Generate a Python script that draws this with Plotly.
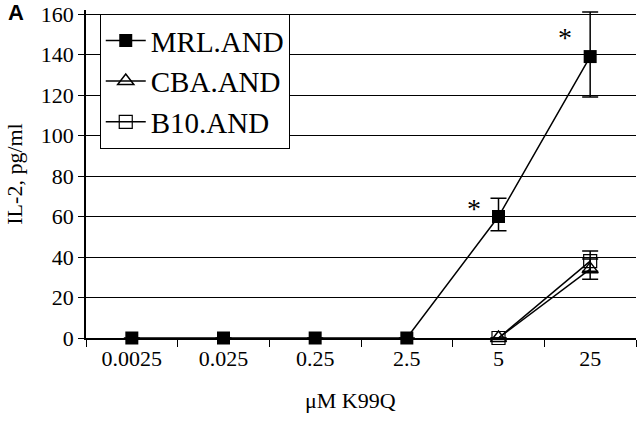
import plotly.graph_objects as go

# concentrations (µM K99Q)
doses = ["0.0025", "0.025", "0.25", "2.5", "5", "25"]

mrl = [0, 0, 0, 0, 60, 139]
mrl_err_up = [0, 0, 0, 0, 9, 22]
mrl_err_dn = [0, 0, 0, 0, 7, 20]

cba = [None, None, None, None, 0, 34]
cba_err = [0, 0, 0, 0, 0, 5]

b10 = [None, None, None, None, 0, 38]
b10_err = [0, 0, 0, 0, 0, 5]

# significant points (category index, value)
stars = [(4, 60), (5, 139)]

y_top = 162  # a little headroom so the top error cap is not clipped

serif = "Liberation Serif, Times New Roman, serif"

fig = go.Figure()

fig.add_trace(go.Scatter(
    x=doses, y=mrl, name="MRL.AND", mode="lines+markers", cliponaxis=False,
    line=dict(color="black", width=1.5),
    marker=dict(symbol="square", size=13, color="black"),
    error_y=dict(type="data", symmetric=False, array=mrl_err_up, arrayminus=mrl_err_dn,
                 color="black", thickness=1.5, width=8),
))

fig.add_trace(go.Scatter(
    x=doses, y=cba, name="CBA.AND", mode="lines+markers", cliponaxis=False,
    line=dict(color="black", width=1.5),
    marker=dict(symbol="triangle-up-open", size=14, color="black", line=dict(width=1.5)),
    error_y=dict(type="data", array=cba_err, color="black", thickness=1.5, width=8),
))

fig.add_trace(go.Scatter(
    x=doses, y=b10, name="B10.AND", mode="lines+markers", cliponaxis=False,
    line=dict(color="black", width=1.5),
    marker=dict(symbol="square-open", size=13, color="black", line=dict(width=1.2)),
    error_y=dict(type="data", array=b10_err, color="black", thickness=1.5, width=8),
))

for (i, v), dy in zip(stars, [8, 19]):
    fig.add_annotation(x=i, y=v, text="*", showarrow=False, xshift=-25, yshift=dy,
                       yanchor="middle",
                       font=dict(family=serif, size=28, color="black"))

fig.add_annotation(x=0, y=1, xref="paper", yref="paper", text="<b>A</b>", showarrow=False,
                   xshift=-80, yshift=-2, xanchor="left", yanchor="middle",
                   font=dict(family="Liberation Sans, Arial, sans-serif", size=22, color="black"))

# x axis title, sits a little left of centre in the original
fig.add_annotation(x=0.48, y=0, xref="paper", yref="paper", text="μM K99Q", showarrow=False,
                   yshift=-62, xanchor="center", yanchor="middle",
                   font=dict(family=serif, size=22, color="black"))

fig.update_layout(
    width=640, height=422,
    margin=dict(l=86, r=4, t=10, b=84),
    paper_bgcolor="white", plot_bgcolor="white",
    font=dict(family=serif, color="black"),
    legend=dict(
        x=0.025, y=160 / y_top, xanchor="left", yanchor="top",
        bordercolor="black", borderwidth=1, bgcolor="white",
        font=dict(family=serif, size=29, color="black"),
        tracegroupgap=0, itemwidth=40,
    ),
    xaxis=dict(
        type="category", range=[-0.5, 5.5], automargin=False,
        showline=True, linecolor="black", linewidth=1.5,
        ticks="outside", ticklen=7, tickcolor="black", tickson="boundaries",
        showgrid=False,
        tickfont=dict(family=serif, size=22),
    ),
    yaxis=dict(
        range=[0, y_top], tick0=0, dtick=20, automargin=False,
        showline=True, linecolor="black", linewidth=1.5,
        ticks="outside", ticklen=6, tickcolor="black",
        showgrid=True, gridcolor="black", gridwidth=1.2,
        zeroline=False,
        tickfont=dict(family=serif, size=22),
        title=dict(text="IL-2, pg/ml", font=dict(family=serif, size=22), standoff=12),
    ),
)

# drop the default page margin so the figure sits at the window's corner
fig.write_html("out.html", config={"displayModeBar": False},
               post_script="document.body.style.margin='0';")
